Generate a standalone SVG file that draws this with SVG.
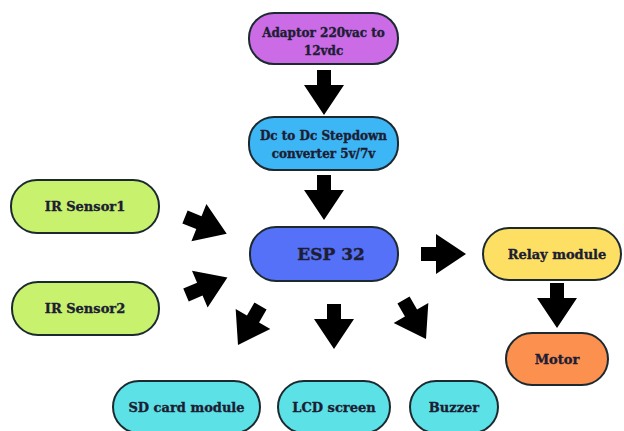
<svg xmlns="http://www.w3.org/2000/svg" xmlns:xlink="http://www.w3.org/1999/xlink" width="624" height="431" viewBox="0 0 624 431">
<style>
.box{stroke:#1c2a30;stroke-width:2}
.t{font-family:"DejaVu Serif","Liberation Serif",serif;font-weight:bold;font-size:13px;fill:#1d1d33;stroke:#1d1d33;stroke-width:0.35;text-anchor:middle}
.s{font-size:12px}
.big{font-size:17px}
.arr{fill:#000}
</style>
<defs>
<path id="arr" d="M0,-7 L15,-7 L15,-20 L45,0 L15,20 L15,7 L0,7 Z"/>
</defs>
<rect width="624" height="431" fill="#fff"/>
<g id="adaptor"><rect class="box" x="249" y="13" width="149" height="51" rx="25" fill="#cb6ce6"/><text class="t s" x="323.5" y="37">Adaptor 220vac to</text><text class="t s" x="323.5" y="55">12vdc</text></g>
<g id="dcdc"><rect class="box" x="249" y="117" width="149" height="53" rx="25" fill="#3db6f6"/><text class="t s" x="323.5" y="140">Dc to Dc Stepdown</text><text class="t s" x="323.5" y="158">converter 5v/7v</text></g>
<g id="ir1"><rect class="box" x="11" y="180" width="148" height="53" rx="26" fill="#c8f26e"/><text class="t" x="85" y="211">IR Sensor1</text></g>
<g id="ir2"><rect class="box" x="12" y="282" width="147" height="53" rx="26" fill="#c8f26e"/><text class="t" x="85" y="313">IR Sensor2</text></g>
<g id="esp"><rect class="box" x="250" y="227" width="148" height="54" rx="26" fill="#5571f7"/><text class="t big" x="331" y="260">ESP 32</text></g>
<g id="relay"><rect class="box" x="483" y="228" width="138" height="52" rx="26" fill="#fde063"/><text class="t" x="557" y="259">Relay module</text></g>
<g id="motor"><rect class="box" x="506" y="333" width="102" height="52" rx="26" fill="#fc904f"/><text class="t" x="557" y="364">Motor</text></g>
<g id="sd"><rect class="box" x="113" y="381" width="147" height="52" rx="26" fill="#5ce1e6"/><text class="t" x="186.5" y="412">SD card module</text></g>
<g id="lcd"><rect class="box" x="278" y="381" width="112" height="52" rx="26" fill="#5ce1e6"/><text class="t" x="334" y="412">LCD screen</text></g>
<g id="buzzer"><rect class="box" x="410" y="381" width="88" height="52" rx="26" fill="#5ce1e6"/><text class="t" x="454" y="412">Buzzer</text></g>
<g id="connectors" class="arr">
<use xlink:href="#arr" transform="translate(324,70) rotate(90)"/>
<use xlink:href="#arr" transform="translate(324,175) rotate(90)"/>
<use xlink:href="#arr" transform="translate(185,217) rotate(22)"/>
<use xlink:href="#arr" transform="translate(186,295) rotate(-23)"/>
<use xlink:href="#arr" transform="translate(421,254)"/>
<use xlink:href="#arr" transform="translate(557,283) rotate(90)"/>
<use xlink:href="#arr" transform="translate(260.5,306) rotate(120)"/>
<use xlink:href="#arr" transform="translate(334,304) rotate(90)"/>
<use xlink:href="#arr" transform="translate(403.5,300) rotate(60)"/>
</g>
</svg>
